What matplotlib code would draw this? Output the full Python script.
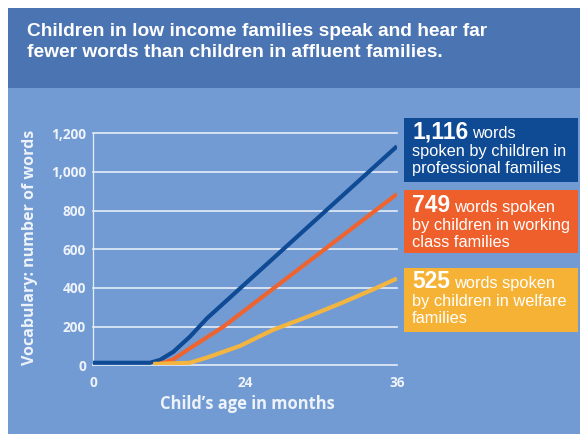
import matplotlib
matplotlib.use("Agg")
import matplotlib.pyplot as plt
import numpy as np
from matplotlib.patches import Rectangle

# ---- data ----
months_prof = [0, 9.0, 10.6, 12.7, 15.3, 18.0, 36]
words_prof = [13, 13, 28, 70, 148, 243, 1133]
months_work = [10.6, 12.7, 15.3, 20.6, 36]
words_work = [8, 31, 88, 200, 886]
months_welf = [9.5, 15.3, 18.0, 23.2, 26.2, 28.9, 31.5, 34.1, 36]
words_welf = [7, 13, 40, 100, 183, 250, 319, 392, 449]

x_ticks = [0, 24, 36]
y_ticks = [0, 200, 400, 600, 800, 1000, 1200]
y_tick_labels = ["0", "200", "400", "600", "800", "1,000", "1,200"]

title_lines = ["Children in low income families speak and hear far",
               "fewer words than children in affluent families."]
box_numbers = ["1,116", "749", "525"]
box_first = ["words", "words spoken", "words spoken"]
box_rest = [["spoken by children in", "professional families"],
            ["by children in working", "class families"],
            ["by children in welfare", "families"]]

C_HEADER = "#4b74b2"
C_BODY = "#729bd3"
C_PROF = "#0f4a94"
C_WORK = "#ee6431"
C_WELF = "#f3b540"
C_BOX = ["#0f4a94", "#ef5f2b", "#f5b234"]
C_TXT = "#eef3fa"

W, H = 580, 434
fig = plt.figure(figsize=(W / 100, H / 100), dpi=100, facecolor="white")

def fx(px):
    return px / W

def fy(py):
    return 1 - py / H

# backgrounds
fig.patches.append(Rectangle((fx(8), 0), fx(572), fy(88), transform=fig.transFigure,
                             facecolor=C_BODY, edgecolor="none", zorder=-2))
fig.patches.append(Rectangle((fx(8), fy(88)), fx(572), fy(8) - fy(88), transform=fig.transFigure,
                             facecolor=C_HEADER, edgecolor="none", zorder=-2))

# title
for i, line in enumerate(title_lines):
    fig.text(fx(27), fy(36 + 21 * i), line, color="white", fontsize=13.8,
             fontweight="bold", family="Liberation Sans", va="baseline", ha="left")

# axes
ax = fig.add_axes([fx(93), fy(365.3), fx(397) - fx(93), fy(133.3) - fy(365.3)])
ax.set_zorder(0.5)
ax.patch.set_alpha(0)

def fwd(x):
    x = np.asarray(x, dtype=float)
    return np.where(x <= 24, x / 48.0, 0.5 + (x - 24) / 24.0)

def inv(u):
    u = np.asarray(u, dtype=float)
    return np.where(u <= 0.5, u * 48.0, 24 + (u - 0.5) * 24.0)

ax.set_xscale("function", functions=(fwd, inv))
ax.set_xlim(0, 36)
ax.set_ylim(0, 1200)

ax.plot(months_prof, words_prof, color=C_PROF, lw=3.0, solid_capstyle="butt",
        solid_joinstyle="round", zorder=3)
ax.plot(months_work, words_work, color=C_WORK, lw=3.0, solid_capstyle="butt",
        solid_joinstyle="round", zorder=4)
ax.plot(months_welf, words_welf, color=C_WELF, lw=3.0, solid_capstyle="butt",
        solid_joinstyle="round", zorder=5)

ax.set_yticks(y_ticks)
ax.set_yticklabels(y_tick_labels)
ax.set_xticks(x_ticks)
ax.set_xticklabels([str(t) for t in x_ticks])
ax.xaxis.set_minor_locator(matplotlib.ticker.NullLocator())
ax.tick_params(length=0, colors=C_TXT, labelsize=9.8)
ax.tick_params(axis="y", pad=5)
ax.tick_params(axis="x", pad=8)
for lab in ax.get_xticklabels() + ax.get_yticklabels():
    lab.set_fontfamily("Open Sans")
    lab.set_fontweight("bold")
ax.yaxis.grid(True, color="#e6edf8", lw=1.2)
for gl in ax.get_ygridlines():
    gl.set_clip_on(False)
ax.xaxis.grid(False)
ax.set_axisbelow(True)
for s in ["top", "right", "bottom"]:
    ax.spines[s].set_visible(False)
ax.spines["left"].set_color("#e6edf8")
ax.spines["left"].set_linewidth(0.9)

fig.text(fx(30), fy(247), "Vocabulary: number of words", rotation=90, ha="center", va="center",
         color=C_TXT, fontsize=11.5, fontweight="bold", family="Open Sans")
fig.text(fx(247), fy(404), "Child\u2019s age in months", ha="center", va="center",
         color=C_TXT, fontsize=11.9, fontweight="bold", family="Open Sans")

# annotation boxes
box_tops = [118, 190, 268]
box_bottoms = [182, 253, 332]
num_base = [138, 212, 288]
renderer = fig.canvas.get_renderer()
for i in range(3):
    fig.patches.append(Rectangle((fx(404), fy(box_bottoms[i])), fx(578) - fx(404),
                                 fy(box_tops[i]) - fy(box_bottoms[i]), transform=fig.transFigure,
                                 facecolor=C_BOX[i], edgecolor="none", zorder=1))
    t = fig.text(fx(412), fy(num_base[i]), box_numbers[i], color="white", fontsize=16.5,
                 fontweight="bold", family="Liberation Sans", va="baseline", ha="left", zorder=2)
    bb = t.get_window_extent(renderer)
    fig.text(fx(bb.x1 + 4), fy(num_base[i]), box_first[i], color="white", fontsize=11.8,
             family="Liberation Sans", va="baseline", ha="left", zorder=2)
    for j, line in enumerate(box_rest[i]):
        fig.text(fx(412), fy(num_base[i] + 17.7 * (j + 1)), line, color="white", fontsize=11.8,
                 family="Liberation Sans", va="baseline", ha="left", zorder=2)

fig.savefig("out.png", dpi=100, facecolor="white")
